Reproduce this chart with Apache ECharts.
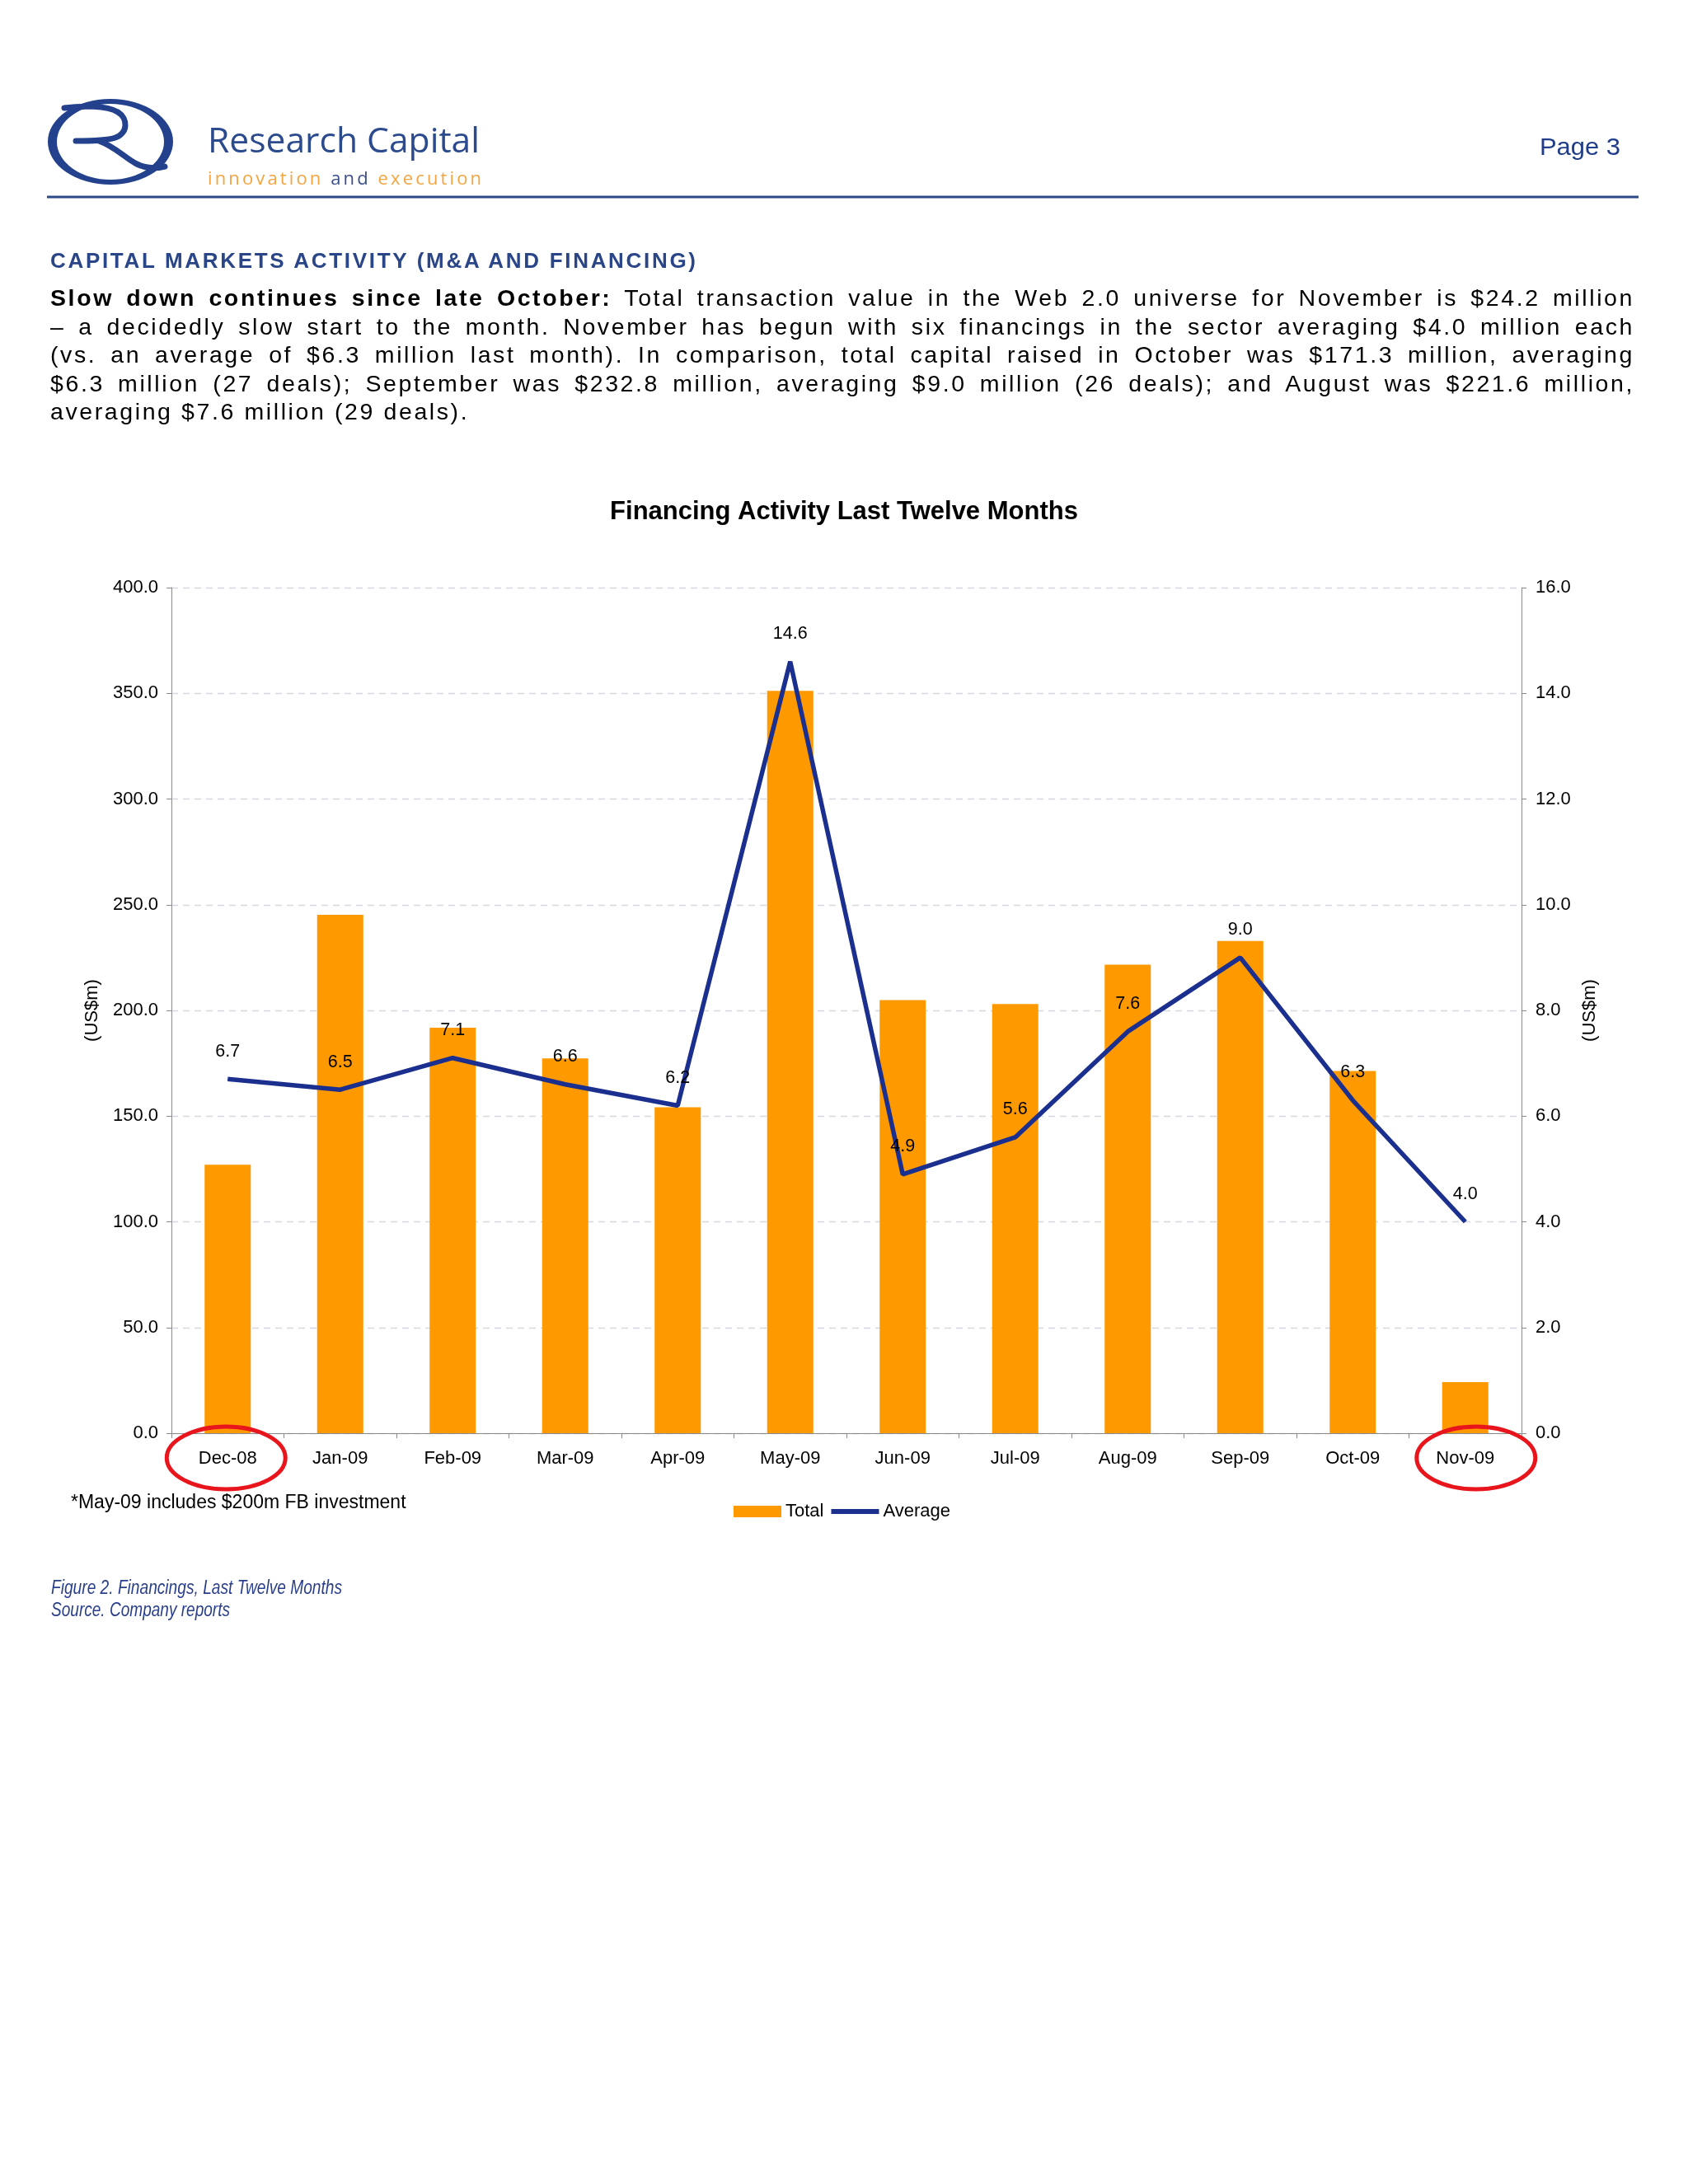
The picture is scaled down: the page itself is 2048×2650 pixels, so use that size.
<!DOCTYPE html>
<html>
<head>
<meta charset="utf-8">
<script src="https://cdn.jsdelivr.net/npm/echarts@6/dist/echarts.min.js"></script>
<style>
html,body{margin:0;padding:0;background:#fff;}
#page{position:relative;width:2048px;height:2650px;overflow:hidden;font-family:'Liberation Sans',Arial,Helvetica,sans-serif;}
#chart{position:absolute;left:0;top:0;width:2048px;height:2650px;}
#overlay{position:absolute;left:0;top:0;width:2048px;height:2650px;pointer-events:none;}
#para{position:absolute;left:61px;top:344px;width:1922px;font-size:28.5px;line-height:34.6px;letter-spacing:2.6px;color:#000;}
#para div{text-align:justify;text-align-last:justify;}
#para div.last{text-align-last:left;}
</style>
</head>
<body>
<div id="page">
<div id="chart"></div>
<svg id="overlay" width="2048" height="2650" xmlns="http://www.w3.org/2000/svg">
  <!-- logo -->
  <path fill="#23418c" fill-rule="evenodd" d="M58,172 a76,52 0 1,0 152,0 a76,52 0 1,0 -152,0 Z M69,172 a65,46 0 1,0 130,0 a65,46 0 1,0 -130,0 Z"/>
  <path fill="none" stroke="#23418c" stroke-width="7" stroke-linecap="round" d="M78,131 C100,128 130,128 143,136 C156,144 155,162 140,167 C128,171 110,171 92,171"/>
  <path fill="none" stroke="#23418c" stroke-width="7" stroke-linecap="round" d="M120,171 C140,178 152,192 166,199 C176,204 188,205 200,202"/>
  <text x="252" y="185" font-family="'Open Sans',sans-serif" font-weight="400" font-size="42" fill="#2b4b8e" textLength="330" lengthAdjust="spacingAndGlyphs">Research Capital</text>
  <text x="252" y="224" font-family="'Open Sans',sans-serif" font-size="22" textLength="332" lengthAdjust="spacing"><tspan fill="#f2a541">innovation </tspan><tspan fill="#3a4f8b">and </tspan><tspan fill="#f2a541">execution</tspan></text>
  <text x="1868" y="188" font-family="'Liberation Sans',Arial,sans-serif" font-size="29" fill="#1f3d8a" textLength="98" lengthAdjust="spacingAndGlyphs">Page 3</text>
  <line x1="57" y1="239" x2="1988" y2="239" stroke="#2c4a8a" stroke-width="3"/>
  <text x="61" y="325" font-family="'Liberation Sans',Arial,sans-serif" font-size="26" font-weight="bold" fill="#2a4688" textLength="783" lengthAdjust="spacing">CAPITAL MARKETS ACTIVITY (M&amp;A AND FINANCING)</text>
  <text x="62" y="1934" font-family="'Liberation Sans',Arial,sans-serif" font-size="23" font-style="italic" fill="#2a3f8c" textLength="353" lengthAdjust="spacingAndGlyphs">Figure 2. Financings, Last Twelve Months</text>
  <text x="62" y="1961" font-family="'Liberation Sans',Arial,sans-serif" font-size="23" font-style="italic" fill="#2a3f8c" textLength="217" lengthAdjust="spacingAndGlyphs">Source. Company reports</text>
</svg>
<div id="para">
  <div><b>Slow down continues since late October:</b> Total transaction value in the Web 2.0 universe for November is $24.2 million</div>
  <div>– a decidedly slow start to the month. November has begun with six financings in the sector averaging $4.0 million each</div>
  <div>(vs. an average of $6.3 million last month). In comparison, total capital raised in October was $171.3 million, averaging</div>
  <div>$6.3 million (27 deals); September was $232.8 million, averaging $9.0 million (26 deals); and August was $221.6 million,</div>
  <div class="last">averaging $7.6 million (29 deals).</div>
</div>
</div>
<script>
const categories = ['Dec-08','Jan-09','Feb-09','Mar-09','Apr-09','May-09','Jun-09','Jul-09','Aug-09','Sep-09','Oct-09','Nov-09'];
const totalValues = [127.0, 245.2, 191.8, 177.3, 154.2, 351.2, 204.9, 203.0, 221.6, 232.8, 171.3, 24.2];
const averageValues = [6.7, 6.5, 7.1, 6.6, 6.2, 14.6, 4.9, 5.6, 7.6, 9.0, 6.3, 4.0];
const highlighted = ['Dec-08', 'Nov-09'];
const titleText = 'Financing Activity Last Twelve Months';
const footnoteText = '*May-09 includes $200m FB investment';
const axisNameText = '(US$m)';

const FONT = "'Liberation Sans', Arial, Helvetica, sans-serif";
const chart = echarts.init(document.getElementById('chart'), null, {renderer: 'canvas'});
const axisLineStyle = {color: '#8a8a8a', width: 1};
const footnote = {type: 'text', id: 'foot', left: 86, top: 1812, style: {text: footnoteText, fontSize: 23, fill: '#000', fontFamily: FONT}};
chart.setOption({
  animation: false,
  backgroundColor: 'transparent',
  textStyle: {fontFamily: FONT},
  title: {
    text: titleText, left: 'center', top: 606, padding: 0,
    textStyle: {fontSize: 31, fontWeight: 'bold', color: '#000', fontFamily: FONT}
  },
  grid: {left: 208, right: 202, top: 713, bottom: 911, containLabel: false},
  legend: {
    left: 890, top: 1823, padding: 0, itemGap: 9, itemWidth: 58, itemHeight: 14,
    textStyle: {fontSize: 22, color: '#000', fontFamily: FONT},
    data: [
      {name: 'Total', icon: 'rect'},
      {name: 'Average', icon: 'path://M0,0H100V10H0Z'}
    ]
  },
  xAxis: {
    type: 'category', data: categories,
    axisLine: {lineStyle: axisLineStyle},
    axisTick: {show: true, length: 6, lineStyle: axisLineStyle, alignWithLabel: false},
    axisLabel: {fontSize: 22, color: '#000', margin: 20, fontFamily: FONT, interval: 0},
    splitLine: {show: false}
  },
  yAxis: [
    {
      type: 'value', min: 0, max: 400, interval: 50, position: 'left',
      name: axisNameText, nameLocation: 'middle', nameGap: 85,
      nameTextStyle: {fontSize: 22, color: '#000', fontFamily: FONT},
      axisLine: {show: true, lineStyle: axisLineStyle},
      axisTick: {show: true, length: 6, lineStyle: axisLineStyle},
      axisLabel: {fontSize: 22, color: '#000', margin: 16, fontFamily: FONT, formatter: v => v.toFixed(1)},
      splitLine: {show: true, lineStyle: {color: '#d6d7e0', width: 1.3, type: [8, 6]}}
    },
    {
      type: 'value', min: 0, max: 16, interval: 2, position: 'right',
      name: axisNameText, nameLocation: 'middle', nameGap: 72,
      nameTextStyle: {fontSize: 22, color: '#000', fontFamily: FONT},
      axisLine: {show: true, lineStyle: axisLineStyle},
      axisTick: {show: true, length: 6, lineStyle: axisLineStyle},
      axisLabel: {fontSize: 22, color: '#000', margin: 17, fontFamily: FONT, formatter: v => v.toFixed(1)},
      splitLine: {show: false}
    }
  ],
  series: [
    {
      name: 'Total', type: 'bar', data: totalValues, yAxisIndex: 0,
      barWidth: 56, itemStyle: {color: '#ff9900'}, z: 2
    },
    {
      name: 'Average', type: 'line', data: averageValues, yAxisIndex: 1,
      symbol: 'circle', symbolSize: 1, showSymbol: true,
      itemStyle: {color: '#1b2f8f'},
      lineStyle: {color: '#1b2f8f', width: 5.5},
      label: {show: true, position: 'top', distance: 22, fontSize: 21.5, color: '#000', fontFamily: FONT,
              formatter: p => Number(p.value).toFixed(1)},
      z: 5
    }
  ],
  graphic: [footnote]
});

// red highlight ellipses around first and last category labels
const offsets = {'Dec-08': -2, 'Nov-09': 13};
const ellipses = highlighted.map((c, i) => {
  const cx = chart.convertToPixel({xAxisIndex: 0}, c) + offsets[c];
  return {
    type: 'ellipse', id: 'hl' + i, z: 100,
    shape: {cx: cx, cy: 1769, rx: 72, ry: 38},
    style: {fill: 'none', stroke: '#e8161c', lineWidth: 5}
  };
});
chart.setOption({graphic: [footnote].concat(ellipses)});
</script>
</body>
</html>
